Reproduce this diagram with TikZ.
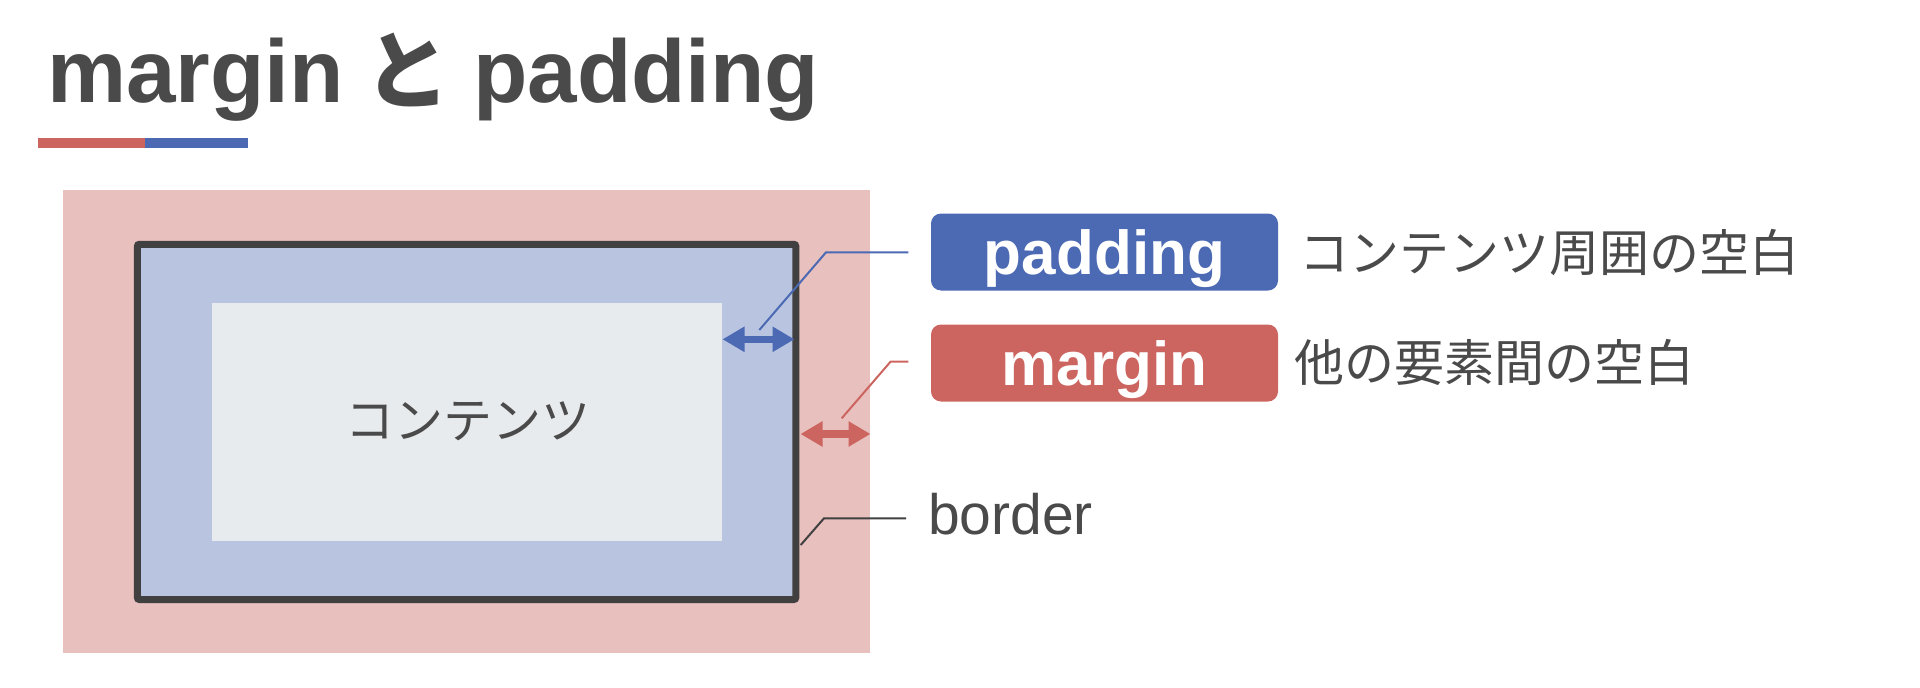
\documentclass[tikz,border=0pt]{standalone}
\usepackage{fontspec}
\setmainfont{Liberation Sans}
\newfontfamily\jp{Noto Sans CJK JP}
\usetikzlibrary{arrows.meta}
\definecolor{pinkbg}{HTML}{E8C0BE}
\definecolor{bluebg}{HTML}{B8C4E0}
\definecolor{contentbg}{HTML}{E8EBED}
\definecolor{bordercol}{HTML}{404040}
\definecolor{bluec}{HTML}{4C69B3}
\definecolor{redc}{HTML}{CC6560}
\definecolor{textc}{HTML}{4A4A4A}
\tikzset{
  titletext/.style={anchor=base west, inner sep=0pt, text=textc, font=\bfseries\fontsize{89}{100}\selectfont},
  tag/.style={rounded corners=10pt, inner sep=0pt, text=white, text height=44pt, text depth=0pt,
    minimum width=347pt, minimum height=77pt, font=\bfseries\fontsize{62}{70}\selectfont},
  desc/.style={anchor=west, inner sep=0pt, text=textc, font=\jp\fontsize{50}{56}\selectfont},
  leader/.style={line width=2pt},
  dblarrow/.style={line width=7.5pt, {Triangle[length=22pt,width=24pt]}-{Triangle[length=22pt,width=24pt]}}
}
\begin{document}
\begin{tikzpicture}[x=1pt,y=-1pt]
\useasboundingbox (0,0) rectangle (1920,688);
% title
\node[titletext] (title1) at (47,102) {margin};
\node[titletext, anchor=base, font=\jp\bfseries\fontsize{86}{100}\selectfont] (title2) at (407,102) {と};
\node[titletext] (title3) at (473,102) {padding};
\fill[redc] (37.5,138.3) rectangle (145,147.7);
\fill[bluec] (145,138.3) rectangle (248.3,147.7);
% boxes
\fill[pinkbg] (62.7,190) rectangle (870,653.3);
\draw[bordercol, fill=bluebg, line width=7pt, rounded corners=2pt] (137.4,244.3) rectangle (795.8,599.5);
\fill[contentbg] (212,303.3) rectangle (722,540.7);
\node[text=textc, inner sep=0pt, font=\jp\fontsize{49}{56}\selectfont] (content) at (467.5,421.7) {コンテンツ};
% coordinates
\coordinate (padL) at (722.5,339.3);
\coordinate (padR) at (794.5,339.3);
\coordinate (marL) at (800.5,434);
\coordinate (marR) at (870.5,434);
% arrows
\draw[bluec, dblarrow] (padL) -- (padR);
\draw[redc, dblarrow] (marL) -- (marR);
% labels
\node[tag, fill=bluec] (padtag) at (1104.5,252) {padding};
\node[tag, fill=redc] (martag) at (1104.5,363) {margin};
\node[desc] (paddesc) at (1299,252.3) {コンテンツ周囲の空白};
\node[desc] (mardesc) at (1294,362.3) {他の要素間の空白};
\node[anchor=base west, inner sep=0pt, text=textc, font=\fontsize{57}{64}\selectfont] (border) at (928,534) {border};
% leaders
\coordinate (padS) at (759.3,330);
\coordinate (padE) at (908.3,252.3);
\coordinate (marS) at (841.7,418.3);
\coordinate (marE) at (908.3,361.5);
\coordinate (borS) at (800.7,545);
\coordinate (borE) at (906,518.3);
\draw[bluec, leader] (padS) -- (826,252.3) -- (padE);
\draw[redc, leader] (marS) -- (890.7,361.5) -- (marE);
\draw[bordercol, leader] (borS) -- (824,518.3) -- (borE);
\end{tikzpicture}
\end{document}
